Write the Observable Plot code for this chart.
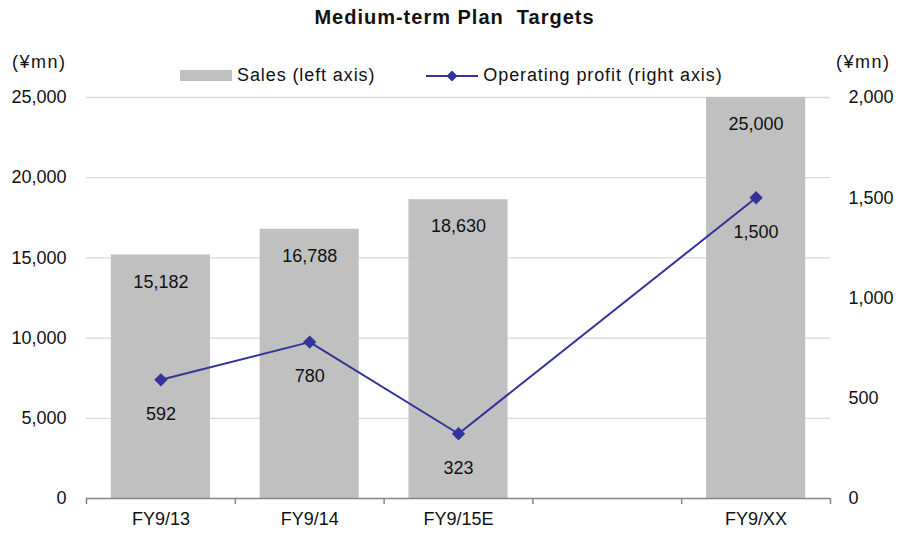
<!DOCTYPE html>
<html>
<head>
<meta charset="utf-8">
<script src="https://cdn.jsdelivr.net/npm/d3@7"></script>
<script src="https://cdn.jsdelivr.net/npm/@observablehq/plot@0.6"></script>
<style>
  html, body { margin: 0; padding: 0; background: #fff; }
  #wrap { position: relative; width: 909px; height: 533px; font-family: "Liberation Sans", Arial, sans-serif; color: #111; }
  #title { position: absolute; left: 0; width: 909px; top: 6px; text-align: center; font-size: 20px; font-weight: bold; letter-spacing: 1px; }
  .unit { position: absolute; top: 52px; font-size: 18px; letter-spacing: 1.5px; }
  #legend { position: absolute; top: 65px; left: 180px; font-size: 18px; display: flex; align-items: center; white-space: nowrap; letter-spacing: 0.9px; }
  .sw { display: inline-block; }
</style>
</head>
<body>
<div id="wrap">
  <div id="title">Medium-term Plan&nbsp;&nbsp;Targets</div>
  <div class="unit" style="left:12px">(¥mn)</div>
  <div class="unit" style="left:836px">(¥mn)</div>
  <div id="legend">
    <span class="sw" style="width:52px;height:11px;background:#c0c0c0;margin-right:5px"></span>
    <span>Sales (left axis)</span>
    <svg width="54" height="14" style="margin-left:50px;margin-right:4px">
      <line x1="1" y1="7" x2="53" y2="7" stroke="#333399" stroke-width="2"/>
      <path d="M27,1.5 L32.5,7 L27,12.5 L21.5,7 Z" fill="#333399"/>
    </svg>
    <span>Operating profit (right axis)</span>
  </div>
  <div id="chart"></div>
</div>
<script>
const categories = ["FY9/13", "FY9/14", "FY9/15E", "", "FY9/XX"];
const sales = [15182, 16788, 18630, null, 25000];
const profit = [592, 780, 323, null, 1500];
const leftTicks = [0, 5000, 10000, 15000, 20000, 25000];
const rightTicks = [0, 500, 1000, 1500, 2000];
const leftMax = 25000, rightMax = 2000;

const ratio = leftMax / rightMax;
const rows = categories.map((c, i) => ({i, cat: c, sales: sales[i], profit: profit[i]}));
const barRows = rows.filter(d => d.sales != null);
const lineRows = rows.filter(d => d.profit != null);
const fmt = d3.format(",");
const half = 0.333;
const n = categories.length;

const chart = Plot.plot({
  width: 909,
  height: 533,
  marginTop: 97,
  marginBottom: 35,
  marginLeft: 86,
  marginRight: 79,
  style: {fontFamily: "Liberation Sans, Arial, sans-serif", fontSize: "18px", color: "#111", background: "transparent"},
  x: {type: "linear", domain: [0, n], axis: null},
  y: {domain: [0, leftMax], axis: null},
  marks: [
    Plot.ruleY(leftTicks.filter(v => v > 0), {stroke: "#d9d9d9", strokeWidth: 1.3}),
    Plot.rect(barRows, {x1: d => d.i + 0.5 - half, x2: d => d.i + 0.5 + half, y1: 0, y2: "sales", fill: "#c0c0c0"}),
    Plot.ruleY([0], {stroke: "#868686", strokeWidth: 1.5}),
    Plot.axisX(d3.range(0, n + 1), {tickSize: 6, tickFormat: () => "", stroke: "#868686", strokeWidth: 1.5, tickPadding: 0, label: null}),
    Plot.axisX(d3.range(n).map(i => i + 0.5), {tickSize: 0, tickPadding: 14, tickFormat: v => categories[Math.floor(v)], fontSize: 18, fill: "#111", label: null}),
    Plot.axisY(leftTicks, {anchor: "left", tickSize: 0, tickPadding: 20, tickFormat: fmt, fontSize: 18, fill: "#111", label: null}),
    Plot.axisY(rightTicks.map(v => v * ratio), {anchor: "right", tickSize: 0, tickPadding: 18, tickFormat: v => fmt(Math.round(v / ratio)), fontSize: 18, fill: "#111", label: null}),
    Plot.line(lineRows, {x: d => d.i + 0.5, y: d => d.profit * ratio, stroke: "#333399", strokeWidth: 2}),
    Plot.dot(lineRows, {x: d => d.i + 0.5, y: d => d.profit * ratio, symbol: "diamond2", r: 6, fill: "#333399", stroke: "none"}),
    Plot.text(barRows, {x: d => d.i + 0.5, y: "sales", dy: 27, text: d => fmt(d.sales), fontSize: 18, fill: "#111"}),
    Plot.text(lineRows, {x: d => d.i + 0.5, y: d => d.profit * ratio, dy: 34, text: d => fmt(d.profit), fontSize: 18, fill: "#111"})
  ]
});
document.getElementById("chart").appendChild(chart);
</script>
</body>
</html>
